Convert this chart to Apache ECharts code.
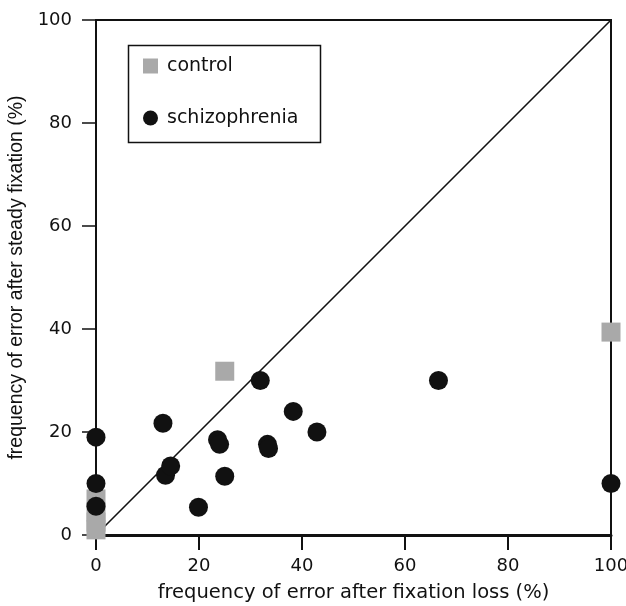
<!DOCTYPE html>
<html><head><meta charset="utf-8">
<script src="https://cdn.jsdelivr.net/npm/echarts@6/dist/echarts.min.js"></script>
<style>html,body{margin:0;padding:0;background:#fff}#c{width:626px;height:606px}</style>
</head><body><div id="c"></div>
<script>
const xTicks = [0, 20, 40, 60, 80, 100];
const yTicks = [0, 20, 40, 60, 80, 100];
const controlX = [0, 0, 0, 0, 25, 100];
const controlY = [7, 4.5, 2.5, 1, 31.8, 39.4];
const schizoX = [0, 0, 0, 13, 13.5, 14.5, 23.6, 24, 25, 19.9, 31.9, 38.3, 42.9, 33.3, 33.5, 66.5, 100];
const schizoY = [19, 10, 5.6, 21.7, 11.6, 13.4, 18.5, 17.6, 11.4, 5.4, 30, 24, 20, 17.6, 16.8, 30, 10];
const diagX = [0, 100];
const diagY = [0, 100];

const wide = 'DejaVu Sans, Verdana, sans-serif';
const narrow = 'Liberation Sans, Arial, Helvetica, sans-serif';
const chart = echarts.init(document.getElementById('c'));
chart.setOption({
  animation: false,
  grid: {left: 96, right: 15, top: 20, bottom: 71, show: true, borderColor: '#111', borderWidth: 2,
         outerBoundsMode: 'none', containLabel: false},
  xAxis: {
    type: 'value', min: 0, max: 100, interval: 20,
    name: 'frequency of error after fixation loss (%)', nameLocation: 'middle', nameGap: 48,
    nameTextStyle: {fontFamily: wide, fontSize: 19.5, color: '#111'},
    axisLine: {lineStyle: {color: '#111', width: 3}},
    axisTick: {length: 15, lineStyle: {color: '#111', width: 2}},
    axisLabel: {fontFamily: wide, fontSize: 18, color: '#111', margin: 22, formatter: v => xTicks.includes(v) ? String(v) : ''},
    splitLine: {show: false}
  },
  yAxis: {
    type: 'value', min: 0, max: 100, interval: 20,
    name: 'frequency of error after steady fixation (%)', nameLocation: 'middle', nameGap: 64,
    nameTextStyle: {fontFamily: narrow, fontSize: 19.5, color: '#111'},
    axisLine: {lineStyle: {color: '#111', width: 2}},
    axisTick: {length: 14, lineStyle: {color: '#111', width: 1.5}},
    axisLabel: {fontFamily: wide, fontSize: 18, color: '#111', margin: 24, formatter: v => yTicks.includes(v) ? String(v) : ''},
    splitLine: {show: false}
  },
  legend: {
    orient: 'vertical', left: 143, top: 56, itemGap: 32, itemWidth: 15, itemHeight: 15, padding: 0,
    textStyle: {fontFamily: wide, fontSize: 19, color: '#111', lineHeight: 20, padding: [0, 0, 0, 4]},
    data: [{name: 'control', icon: 'rect'}, {name: 'schizophrenia', icon: 'circle'}]
  },
  graphic: [{type: 'rect', left: 126, top: 43, shape: {width: 192, height: 97}, style: {fill: 'none', stroke: '#111', lineWidth: 1.5}, z: 10}],
  series: [
    {type: 'line', data: diagX.map((x, i) => [x, diagY[i]]), showSymbol: false, symbol: 'none',
     lineStyle: {color: '#111', width: 1.6}, silent: true, z: 1},
    {name: 'control', type: 'scatter', symbol: 'rect', symbolSize: 19, clip: false,
     itemStyle: {color: '#a9a9a9', opacity: 1}, data: controlX.map((x, i) => [x, controlY[i]]), z: 3},
    {name: 'schizophrenia', type: 'scatter', symbol: 'circle', symbolSize: 19, clip: false,
     itemStyle: {color: '#111111', opacity: 1}, data: schizoX.map((x, i) => [x, schizoY[i]]), z: 4}
  ]
});
</script></body></html>
